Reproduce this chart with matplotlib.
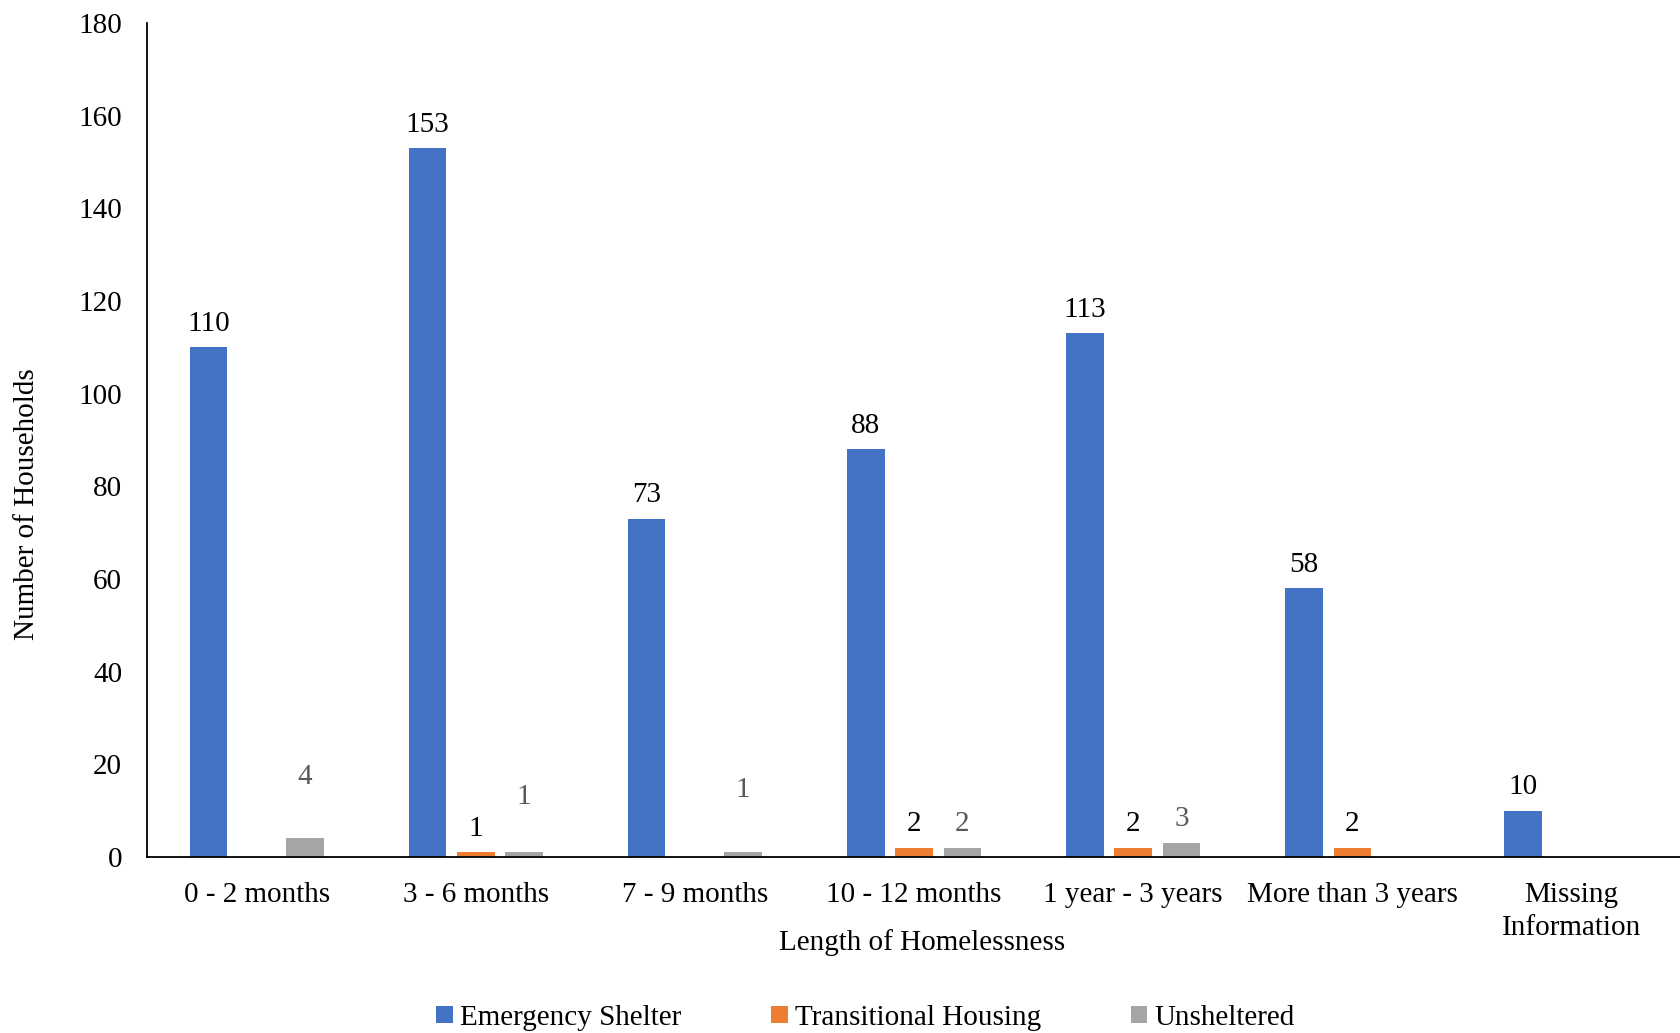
import matplotlib
matplotlib.use("Agg")
import matplotlib.pyplot as plt
import numpy as np

categories = ["0 - 2 months", "3 - 6 months", "7 - 9 months", "10 - 12 months",
              "1 year - 3 years", "More than 3 years", "Missing\nInformation"]
emergency = [110, 153, 73, 88, 113, 58, 10]
transitional = [0, 1, 0, 2, 2, 2, 0]
unsheltered = [4, 1, 1, 2, 3, 0, 0]
series_names = ["Emergency Shelter", "Transitional Housing", "Unsheltered"]
yticks = [0, 20, 40, 60, 80, 100, 120, 140, 160, 180]

colors = ["#4472C4", "#ED7D31", "#A5A5A5"]
label_colors = ["#000000", "#000000", "#595959"]
# manual label offsets (points) for the unsheltered series labels
gray_offsets = [44, 40, 45, 17, 17, 17, 17]

plt.rcParams['font.family'] = ['Liberation Serif', 'DejaVu Serif']
fs = 21

fig = plt.figure(figsize=(16.81, 10.33), dpi=100)
ax = fig.add_axes([0.0875, 0.1704, 0.9125, 0.8073])

x = np.arange(len(categories))
step = 0.22
width = 0.171
series = [emergency, transitional, unsheltered]
for j, (vals, name, c) in enumerate(zip(series, series_names, colors)):
    pos = x + (j - 1) * step
    ax.bar(pos, vals, width=width, color=c, label=name, zorder=2)
    for i, (p, v) in enumerate(zip(pos, vals)):
        if v == 0:
            continue
        off = gray_offsets[i] if j == 2 else 17
        ax.annotate(str(v), (p, v), xytext=(0, off), textcoords="offset points",
                    ha="center", va="center", fontsize=fs, color=label_colors[j])

ax.set_xlim(-0.5, len(categories) - 0.5)
ax.set_ylim(0, 180)
ax.set_yticks(yticks)
ax.set_xticks(x)
ax.set_xticklabels(categories, fontsize=fs, linespacing=1.35)
ax.tick_params(axis='y', length=0, pad=18, labelsize=fs)
ax.tick_params(axis='x', length=0, pad=18)
for s in ["top", "right"]:
    ax.spines[s].set_visible(False)
ax.spines["left"].set_linewidth(1.3)
ax.spines["bottom"].set_linewidth(1.3)

ax.set_ylabel("Number of Households", fontsize=fs, va="center", ha="center")
ax.yaxis.set_label_coords(-0.0782, 0.423)
ax.set_xlabel("Length of Homelessness", fontsize=fs, va="center", ha="center")
ax.xaxis.set_label_coords(0.505, -0.102)

fig.legend(loc="center", bbox_to_anchor=(0.515, 0.0145), ncol=3, frameon=False,
           fontsize=fs, handlelength=0.55, handleheight=0.55, handletextpad=0.25,
           columnspacing=3.1)

fig.savefig("out.png", dpi=100)
